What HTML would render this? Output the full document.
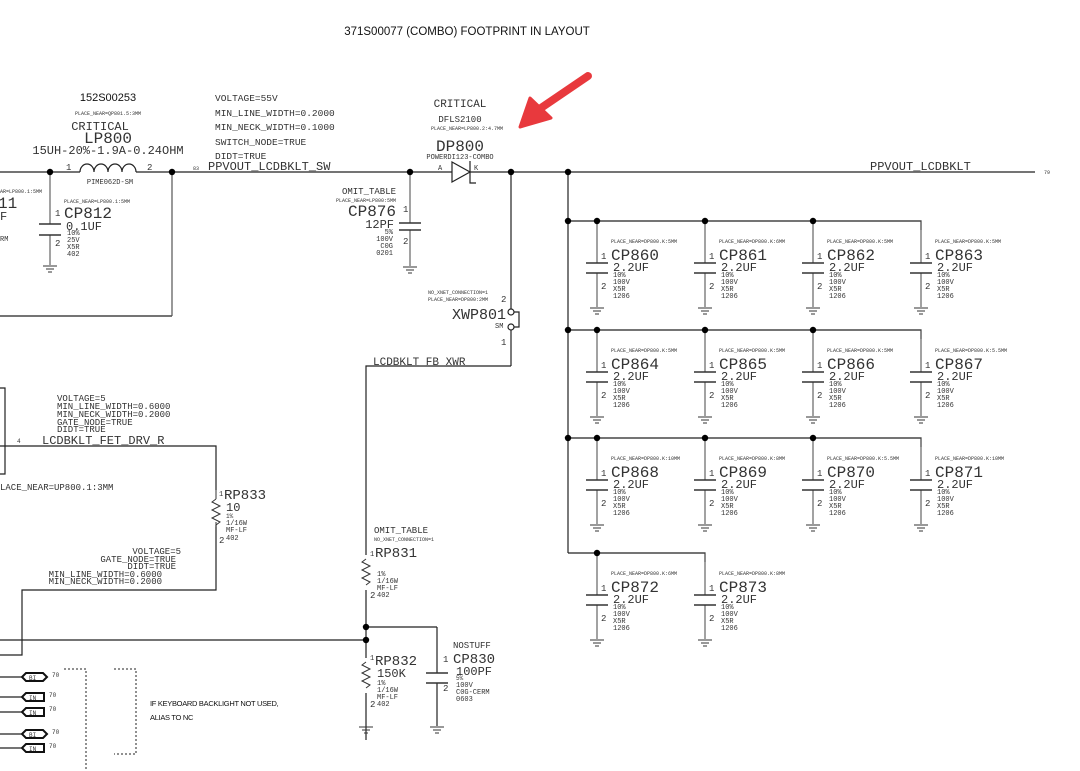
<!DOCTYPE html>
<html><head><style>
html,body{margin:0;padding:0;background:#fff;}
svg{display:block;}
.m{font-family:"Liberation Mono","DejaVu Sans Mono",monospace;fill:#333;}
.s{font-family:"Liberation Sans",sans-serif;fill:#111;}
</style></head><body>
<svg width="1080" height="771" viewBox="0 0 1080 771" xmlns="http://www.w3.org/2000/svg">
<defs>
<g id="gnd" stroke="#333" stroke-width="1" fill="none">
<line x1="-7" y1="0" x2="7" y2="0"/><line x1="-4" y1="3" x2="4" y2="3"/><line x1="-2" y1="6" x2="2" y2="6"/>
</g>
<g id="cap">
<line x1="0" y1="0" x2="0" y2="42" stroke="#444"/>
<line x1="0" y1="52" x2="0" y2="86" stroke="#444"/>
<line x1="-11" y1="42" x2="11" y2="42" stroke="#333" stroke-width="1.6"/>
<line x1="-11" y1="52" x2="11" y2="52" stroke="#333" stroke-width="1.6"/>
<use href="#gnd" x="0" y="87"/>
<text x="4" y="38" class="m" font-size="9">1</text>
<text x="4" y="68" class="m" font-size="9">2</text>
<text x="16" y="56" class="m" font-size="7">10%</text>
<text x="16" y="63" class="m" font-size="7">100V</text>
<text x="16" y="70" class="m" font-size="7">X5R</text>
<text x="16" y="77" class="m" font-size="7">1206</text>
<text x="16" y="50" class="m" font-size="12">2.2UF</text>
</g>
<path id="res" d="M0,0 l-4,3 l8,4 l-8,4 l8,4 l-8,4 l8,4 l-4,3" fill="none" stroke="#333"/>
</defs>

<text x="467" y="35" class="s" font-size="11.5" text-anchor="middle">371S00077 (COMBO) FOOTPRINT IN LAYOUT</text>

<!-- main wire -->
<g stroke="#222" stroke-width="1.2" fill="none">
<line x1="0" y1="172" x2="80" y2="172"/>
<path d="M80,172 a7,8 0 0 1 14,0 a7,8 0 0 1 14,0 a7,8 0 0 1 14,0 a7,8 0 0 1 14,0"/>
<line x1="136" y1="172" x2="452" y2="172"/>
<line x1="470" y1="172" x2="1035" y2="172"/>
<path d="M452,162 L470,172 L452,182 Z" fill="#fff"/>
<path d="M470,161 L470,183 L476,183"/>
<line x1="0" y1="316" x2="172" y2="316"/>
</g>
<line x1="172" y1="172" x2="172" y2="316" stroke="#555" stroke-width="1.2"/>
<!-- CP812 -->
<line x1="50" y1="172" x2="50" y2="224" stroke="#444"/>
<line x1="50" y1="235" x2="50" y2="265" stroke="#444"/>
<line x1="39" y1="224" x2="61" y2="224" stroke="#333" stroke-width="1.6"/>
<line x1="39" y1="235" x2="61" y2="235" stroke="#333" stroke-width="1.6"/>
<use href="#gnd" x="50" y="266"/>
<text x="55" y="216" class="m" font-size="9">1</text>
<text x="55" y="246" class="m" font-size="9">2</text>
<text x="64" y="203" class="m" font-size="5">PLACE_NEAR=LP800.1:5MM</text>
<text x="64" y="218" class="m" font-size="16">CP812</text>
<text x="66" y="230" class="m" font-size="12">0.1UF</text>
<text x="67" y="235" class="m" font-size="7">10%</text>
<text x="67" y="242" class="m" font-size="7">25V</text>
<text x="67" y="249" class="m" font-size="7">X5R</text>
<text x="67" y="256" class="m" font-size="7">402</text>
<text x="0" y="193" class="m" font-size="5">AR=LP800.1:5MM</text>
<text x="-2" y="208" class="m" font-size="16">11</text>
<text x="0" y="220" class="m" font-size="12">F</text>
<text x="0" y="241" class="m" font-size="7">RM</text>

<!-- LP800 -->
<text x="108" y="101" class="s" font-size="11" text-anchor="middle">152S00253</text>
<text x="108" y="115" class="m" font-size="5" text-anchor="middle">PLACE_NEAR=QP801.5:3MM</text>
<text x="100" y="130" class="m" font-size="12" text-anchor="middle">CRITICAL</text>
<text x="108" y="143" class="m" font-size="16" text-anchor="middle">LP800</text>
<text x="108" y="154" class="m" font-size="12" text-anchor="middle">15UH-20%-1.9A-0.24OHM</text>
<text x="66" y="170" class="m" font-size="9">1</text>
<text x="147" y="170" class="m" font-size="9">2</text>
<text x="110" y="184" class="m" font-size="7" text-anchor="middle">PIME062D-SM</text>

<text x="215" y="101" class="m" font-size="9.5">VOLTAGE=55V</text>
<text x="215" y="116" class="m" font-size="9.5">MIN_LINE_WIDTH=0.2000</text>
<text x="215" y="130" class="m" font-size="9.5">MIN_NECK_WIDTH=0.1000</text>
<text x="215" y="145" class="m" font-size="9.5">SWITCH_NODE=TRUE</text>
<text x="215" y="159" class="m" font-size="9.5">DIDT=TRUE</text>
<text x="193" y="170" class="m" font-size="5">83</text>
<text x="208" y="170" class="m" font-size="12">PPVOUT_LCDBKLT_SW</text>

<!-- CP876 -->
<line x1="410" y1="172" x2="410" y2="223" stroke="#444"/>
<line x1="410" y1="230" x2="410" y2="266" stroke="#444"/>
<line x1="399" y1="223" x2="421" y2="223" stroke="#333" stroke-width="1.6"/>
<line x1="399" y1="230" x2="421" y2="230" stroke="#333" stroke-width="1.6"/>
<use href="#gnd" x="410" y="267"/>
<text x="396" y="194" class="m" font-size="9" text-anchor="end">OMIT_TABLE</text>
<text x="396" y="202" class="m" font-size="5" text-anchor="end">PLACE_NEAR=LP800:5MM</text>
<text x="396" y="216" class="m" font-size="16" text-anchor="end">CP876</text>
<text x="403" y="212" class="m" font-size="9">1</text>
<text x="403" y="244" class="m" font-size="9">2</text>
<text x="394" y="228" class="m" font-size="12" text-anchor="end">12PF</text>
<text x="393" y="234" class="m" font-size="7" text-anchor="end">5%</text>
<text x="393" y="241" class="m" font-size="7" text-anchor="end">100V</text>
<text x="393" y="248" class="m" font-size="7" text-anchor="end">C0G</text>
<text x="393" y="255" class="m" font-size="7" text-anchor="end">0201</text>

<!-- DP800 -->
<text x="460" y="107" class="m" font-size="11" text-anchor="middle">CRITICAL</text>
<text x="460" y="122" class="m" font-size="9" text-anchor="middle">DFLS2100</text>
<text x="467" y="130" class="m" font-size="5" text-anchor="middle">PLACE_NEAR=LP800.2:4.7MM</text>
<text x="460" y="151" class="m" font-size="16" text-anchor="middle">DP800</text>
<text x="460" y="159" class="m" font-size="7" text-anchor="middle">POWERDI123-COMBO</text>
<text x="438" y="170" class="m" font-size="7">A</text>
<text x="474" y="170" class="m" font-size="7">K</text>

<!-- arrow -->
<path d="M588,76 L538,110" stroke="#e8393d" stroke-width="8" stroke-linecap="round"/>
<path d="M520,127 L530,98 L551,118 Z" fill="#e8393d" stroke="#e8393d" stroke-width="3" stroke-linejoin="round"/>

<!-- XWP801 -->
<g stroke="#222" stroke-width="1.2" fill="none">
<line x1="511" y1="172" x2="511" y2="309"/>
<circle cx="511" cy="312" r="3" fill="#fff"/>
<circle cx="511" cy="327" r="3" fill="#fff"/>
<path d="M514,312 L519,312 L519,327 L514,327"/>
<line x1="511" y1="330" x2="511" y2="366"/>
<path d="M511,366 L366,366 L366,740"/>
<line x1="366" y1="627" x2="437" y2="627"/>
<line x1="437" y1="627" x2="437" y2="673"/>
<line x1="437" y1="683" x2="437" y2="726"/>
<line x1="0" y1="640" x2="366" y2="640"/>
</g>
<line x1="426" y1="673" x2="448" y2="673" stroke="#333" stroke-width="1.6"/>
<line x1="426" y1="683" x2="448" y2="683" stroke="#333" stroke-width="1.6"/>
<use href="#gnd" x="437" y="727"/>
<use href="#gnd" x="366" y="727"/>
<text x="428" y="294" class="m" font-size="5">NO_XNET_CONNECTION=1</text>
<text x="428" y="301" class="m" font-size="5">PLACE_NEAR=DP800:2MM</text>
<text x="501" y="302" class="m" font-size="9">2</text>
<text x="452" y="319" class="m" font-size="15">XWP801</text>
<text x="495" y="328" class="m" font-size="7">SM</text>
<text x="501" y="345" class="m" font-size="9">1</text>
<text x="373" y="365" class="m" font-size="11">LCDBKLT_FB_XWR</text>

<!-- RP831 -->
<rect x="360" y="555" width="12" height="35" fill="#fff"/>
<use href="#res" x="366" y="559"/>
<text x="374" y="533" class="m" font-size="9">OMIT_TABLE</text>
<text x="374" y="541" class="m" font-size="5">NO_XNET_CONNECTION=1</text>
<text x="370" y="556" class="m" font-size="7">1</text>
<text x="375" y="557" class="m" font-size="14">RP831</text>
<text x="377" y="576" class="m" font-size="7">1%</text>
<text x="377" y="583" class="m" font-size="7">1/16W</text>
<text x="377" y="590" class="m" font-size="7">MF-LF</text>
<text x="370" y="598" class="m" font-size="9">2</text>
<text x="377" y="597" class="m" font-size="7">402</text>
<!-- RP832 -->
<rect x="360" y="658" width="12" height="35" fill="#fff"/>
<use href="#res" x="366" y="662"/>
<text x="370" y="660" class="m" font-size="7">1</text>
<text x="375" y="665" class="m" font-size="14">RP832</text>
<text x="377" y="677" class="m" font-size="12">150K</text>
<text x="377" y="685" class="m" font-size="7">1%</text>
<text x="377" y="692" class="m" font-size="7">1/16W</text>
<text x="377" y="699" class="m" font-size="7">MF-LF</text>
<text x="370" y="707" class="m" font-size="9">2</text>
<text x="377" y="706" class="m" font-size="7">402</text>
<!-- CP830 -->
<text x="453" y="648" class="m" font-size="9">NOSTUFF</text>
<text x="443" y="662" class="m" font-size="9">1</text>
<text x="453" y="663" class="m" font-size="14">CP830</text>
<text x="456" y="675" class="m" font-size="12">100PF</text>
<text x="443" y="691" class="m" font-size="9">2</text>
<text x="456" y="680" class="m" font-size="6">5%</text>
<text x="456" y="687" class="m" font-size="7">100V</text>
<text x="456" y="694" class="m" font-size="7">C0G-CERM</text>
<text x="456" y="701" class="m" font-size="7">0603</text>

<!-- gate network -->
<g stroke="#222" stroke-width="1.2" fill="none">
<path d="M0,388 L5,388 L5,474 L0,474"/>
<path d="M0,446 L216,446 L216,490"/>
<path d="M216,522 L216,590 L22,590 L22,655 L0,655"/>
</g>
<rect x="210" y="495" width="12" height="30" fill="#fff"/>
<use href="#res" x="216" y="499"/>
<line x1="216" y1="490" x2="216" y2="499" stroke="#333"/>
<line x1="216" y1="527" x2="216" y2="522" stroke="#333"/>
<text x="57" y="401" class="m" font-size="9">VOLTAGE=5</text>
<text x="57" y="409" class="m" font-size="9">MIN_LINE_WIDTH=0.6000</text>
<text x="57" y="417" class="m" font-size="9">MIN_NECK_WIDTH=0.2000</text>
<text x="57" y="425" class="m" font-size="9">GATE_NODE=TRUE</text>
<text x="57" y="432" class="m" font-size="9">DIDT=TRUE</text>
<text x="17" y="443" class="m" font-size="6">4</text>
<text x="42" y="444" class="m" font-size="12">LCDBKLT_FET_DRV_R</text>
<text x="0" y="490" class="m" font-size="9">LACE_NEAR=UP800.1:3MM</text>
<text x="219" y="496" class="m" font-size="7">1</text>
<text x="224" y="499" class="m" font-size="14">RP833</text>
<text x="226" y="511" class="m" font-size="12">10</text>
<text x="226" y="518" class="m" font-size="6">1%</text>
<text x="226" y="525" class="m" font-size="7">1/16W</text>
<text x="226" y="532" class="m" font-size="7">MF-LF</text>
<text x="219" y="543" class="m" font-size="9">2</text>
<text x="226" y="540" class="m" font-size="7">402</text>
<text x="181" y="554" class="m" font-size="9" text-anchor="end">VOLTAGE=5</text>
<text x="176" y="562" class="m" font-size="9" text-anchor="end">GATE_NODE=TRUE</text>
<text x="176" y="569" class="m" font-size="9" text-anchor="end">DIDT=TRUE</text>
<text x="162" y="577" class="m" font-size="9" text-anchor="end">MIN_LINE_WIDTH=0.6000</text>
<text x="162" y="584" class="m" font-size="9" text-anchor="end">MIN_NECK_WIDTH=0.2000</text>

<!-- ports -->
<g stroke="#222" stroke-width="1.2">
<line x1="0" y1="677" x2="22" y2="677"/><line x1="0" y1="697" x2="22" y2="697"/>
<line x1="0" y1="712" x2="22" y2="712"/><line x1="0" y1="734" x2="22" y2="734"/>
<line x1="0" y1="748" x2="22" y2="748"/>
</g>
<g stroke="#111" stroke-width="2" fill="#fff">
<path d="M22,677 L26,673 L43,673 L47,677 L43,681 L26,681 Z"/>
<path d="M22,697 L26,693 L44,693 L44,701 L26,701 Z"/>
<path d="M22,712 L26,708 L44,708 L44,716 L26,716 Z"/>
<path d="M22,734 L26,730 L43,730 L47,734 L43,738 L26,738 Z"/>
<path d="M22,748 L26,744 L44,744 L44,752 L26,752 Z"/>
</g>
<g class="m" font-size="6" fill="#888">
<text x="29" y="680">BI</text><text x="29" y="700">IN</text><text x="29" y="715">IN</text>
<text x="29" y="737">BI</text><text x="29" y="751">IN</text>
<text x="52" y="677">70</text><text x="49" y="697">70</text><text x="49" y="711">70</text>
<text x="52" y="734">70</text><text x="49" y="748">70</text>
</g>
<g stroke="#222" stroke-width="1" fill="none" stroke-dasharray="2,2">
<path d="M64,669 L86,669 L86,771"/>
<path d="M114,669 L136,669 L136,754 L114,754"/>
</g>
<text x="150" y="706" class="s" font-size="7.5" letter-spacing="-0.3">IF KEYBOARD BACKLIGHT NOT USED,</text>
<text x="150" y="720" class="s" font-size="7.5" letter-spacing="-0.3">ALIAS TO NC</text>

<!-- output bank -->
<g stroke="#222" stroke-width="1.2" fill="none">
<line x1="568" y1="172" x2="568" y2="553"/>
<path d="M568,221 L921,221 L921,230"/>
<path d="M568,330 L921,330 L921,339"/>
<path d="M568,438 L921,438 L921,447"/>
<path d="M568,553 L705,553 L705,562"/>
</g>
<text x="870" y="170" class="m" font-size="12">PPVOUT_LCDBKLT</text>
<text x="1044" y="174" class="m" font-size="5" fill="#999">79</text>

<g transform="translate(597,221)"><use href="#cap"/><text x="14" y="22" class="m" font-size="5">PLACE_NEAR=DP800.K:5MM</text><text x="14" y="39" class="m" font-size="16">CP860</text></g>
<g transform="translate(705,221)"><use href="#cap"/><text x="14" y="22" class="m" font-size="5">PLACE_NEAR=DP800.K:6MM</text><text x="14" y="39" class="m" font-size="16">CP861</text></g>
<g transform="translate(813,221)"><use href="#cap"/><text x="14" y="22" class="m" font-size="5">PLACE_NEAR=DP800.K:5MM</text><text x="14" y="39" class="m" font-size="16">CP862</text></g>
<g transform="translate(921,221)"><use href="#cap"/><text x="14" y="22" class="m" font-size="5">PLACE_NEAR=DP800.K:5MM</text><text x="14" y="39" class="m" font-size="16">CP863</text></g>
<g transform="translate(597,330)"><use href="#cap"/><text x="14" y="22" class="m" font-size="5">PLACE_NEAR=DP800.K:5MM</text><text x="14" y="39" class="m" font-size="16">CP864</text></g>
<g transform="translate(705,330)"><use href="#cap"/><text x="14" y="22" class="m" font-size="5">PLACE_NEAR=DP800.K:5MM</text><text x="14" y="39" class="m" font-size="16">CP865</text></g>
<g transform="translate(813,330)"><use href="#cap"/><text x="14" y="22" class="m" font-size="5">PLACE_NEAR=DP800.K:5MM</text><text x="14" y="39" class="m" font-size="16">CP866</text></g>
<g transform="translate(921,330)"><use href="#cap"/><text x="14" y="22" class="m" font-size="5">PLACE_NEAR=DP800.K:5.5MM</text><text x="14" y="39" class="m" font-size="16">CP867</text></g>
<g transform="translate(597,438)"><use href="#cap"/><text x="14" y="22" class="m" font-size="5">PLACE_NEAR=DP800.K:10MM</text><text x="14" y="39" class="m" font-size="16">CP868</text></g>
<g transform="translate(705,438)"><use href="#cap"/><text x="14" y="22" class="m" font-size="5">PLACE_NEAR=DP800.K:8MM</text><text x="14" y="39" class="m" font-size="16">CP869</text></g>
<g transform="translate(813,438)"><use href="#cap"/><text x="14" y="22" class="m" font-size="5">PLACE_NEAR=DP800.K:5.5MM</text><text x="14" y="39" class="m" font-size="16">CP870</text></g>
<g transform="translate(921,438)"><use href="#cap"/><text x="14" y="22" class="m" font-size="5">PLACE_NEAR=DP800.K:10MM</text><text x="14" y="39" class="m" font-size="16">CP871</text></g>
<g transform="translate(597,553)"><use href="#cap"/><text x="14" y="22" class="m" font-size="5">PLACE_NEAR=DP800.K:6MM</text><text x="14" y="39" class="m" font-size="16">CP872</text></g>
<g transform="translate(705,553)"><use href="#cap"/><text x="14" y="22" class="m" font-size="5">PLACE_NEAR=DP800.K:8MM</text><text x="14" y="39" class="m" font-size="16">CP873</text></g>

<!-- junction dots -->
<g fill="#000">
<circle cx="50" cy="172" r="3.2"/><circle cx="172" cy="172" r="3.2"/><circle cx="410" cy="172" r="3.2"/>
<circle cx="511" cy="172" r="3.2"/><circle cx="568" cy="172" r="3.2"/>
<circle cx="568" cy="221" r="3.2"/><circle cx="597" cy="221" r="3.2"/><circle cx="705" cy="221" r="3.2"/><circle cx="813" cy="221" r="3.2"/>
<circle cx="568" cy="330" r="3.2"/><circle cx="597" cy="330" r="3.2"/><circle cx="705" cy="330" r="3.2"/><circle cx="813" cy="330" r="3.2"/>
<circle cx="568" cy="438" r="3.2"/><circle cx="597" cy="438" r="3.2"/><circle cx="705" cy="438" r="3.2"/><circle cx="813" cy="438" r="3.2"/>
<circle cx="597" cy="553" r="3.2"/>
<circle cx="366" cy="627" r="3.2"/><circle cx="366" cy="640" r="3.2"/>
</g>
</svg>
</body></html>
